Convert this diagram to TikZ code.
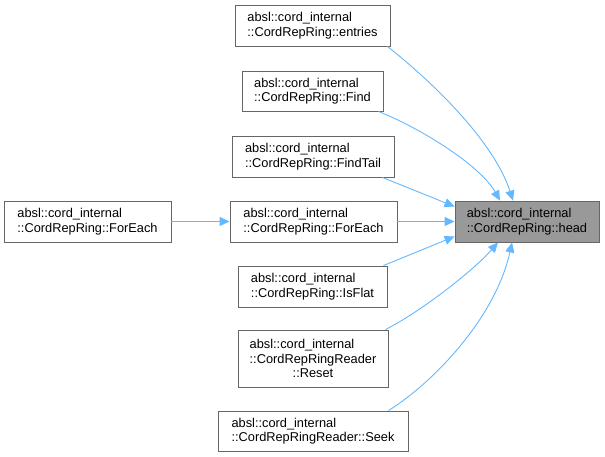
\documentclass[tikz,border=0pt]{standalone}
\usepackage{fontspec}
\setmainfont{Liberation Sans}
\usetikzlibrary{arrows.meta}
\definecolor{edgec}{HTML}{63B8FF}
\definecolor{bordc}{HTML}{666666}
\definecolor{headc}{HTML}{999999}
\tikzset{
  fn/.style={draw=bordc, line width=0.9pt, fill=white, align=left, inner sep=0pt,
    font=\fontsize{12.8}{14.6}\selectfont, text=black},
  hl/.style={fn, fill=headc},
  edge/.style={draw=edgec, line width=0.9pt, -{Triangle[length=10pt,width=9pt]}},
}
\begin{document}
\begin{tikzpicture}[x=1pt,y=-1pt]
\useasboundingbox (0,0) rectangle (605,457);
\node[fn, minimum width=155pt, minimum height=41pt] (entries) at (312.5,25.5) {absl::cord\_internal\\::CordRepRing::entries};
\node[fn, minimum width=141pt, minimum height=40pt] (find) at (312.5,91) {absl::cord\_internal\\::CordRepRing::Find};
\node[fn, minimum width=162pt, minimum height=41pt] (findtail) at (313,156.5) {absl::cord\_internal\\::CordRepRing::FindTail};
\node[fn, minimum width=167pt, minimum height=41pt] (foreach) at (313.5,221.5) {absl::cord\_internal\\::CordRepRing::ForEach};
\node[fn, minimum width=167pt, minimum height=41pt] (foreachl) at (87.5,221.5) {absl::cord\_internal\\::CordRepRing::ForEach};
\node[hl, minimum width=144pt, minimum height=41pt] (head) at (527,221.5) {absl::cord\_internal\\::CordRepRing::head};
\node[fn, minimum width=149pt, minimum height=41pt] (isflat) at (312.5,286.5) {absl::cord\_internal\\::CordRepRing::IsFlat};
\node[fn, minimum width=150pt, minimum height=57pt] (reset) at (313,358.5) {absl::cord\_internal\\::CordRepRingReader\\{\settowidth{\dimen0}{::CordRepRingReader}\makebox[\dimen0]{::Reset}}};
\node[fn, minimum width=190pt, minimum height=40pt] (seek) at (313,431) {absl::cord\_internal\\::CordRepRingReader::Seek};

\draw[edge] ([xshift=-3pt]entries.south east) .. controls (440,88) and (495,145) .. ([xshift=-14pt]head.north);
\draw[edge] ([xshift=-5pt]find.south east) .. controls (420,128) and (480,165) .. ([xshift=-27pt]head.north);
\draw[edge] ([xshift=-12pt]findtail.south east) -- ([yshift=15pt]head.west);
\draw[edge] (foreach.east) -- (head.west);
\draw[edge] (foreachl.east) -- (foreach.west);
\draw[edge] ([xshift=-4pt]isflat.north east) -- ([yshift=-15pt]head.west);
\draw[edge] ([xshift=-3pt]reset.north east) .. controls (420,312) and (472,272) .. ([xshift=-29pt]head.south);
\draw[edge] ([xshift=-20pt]seek.north east) .. controls (430,385) and (495,320) .. ([xshift=-15pt]head.south);
\end{tikzpicture}
\end{document}
